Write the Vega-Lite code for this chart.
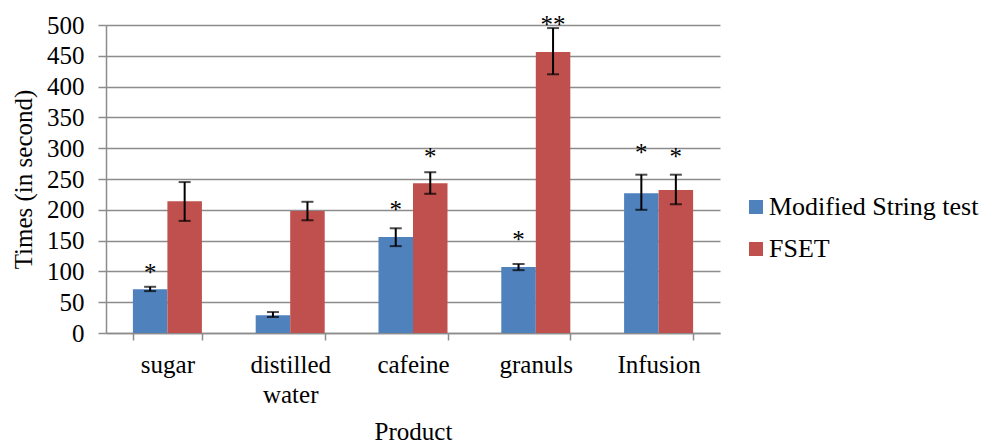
{
  "$schema": "https://vega.github.io/schema/vega-lite/v6.json",
  "width": 614,
  "height": 308,
  "autosize": {"type": "none"},
  "padding": {"left": 106, "top": 25, "right": 263, "bottom": 110},
  "background": "white",
  "config": {
    "font": "Liberation Serif",
    "view": {"stroke": null},
    "axis": {
      "labelFont": "Liberation Serif",
      "titleFont": "Liberation Serif",
      "labelFontSize": 25,
      "titleFontSize": 25,
      "titleFontWeight": "normal",
      "labelColor": "black",
      "titleColor": "black",
      "domainColor": "#8c8c8c",
      "domainWidth": 1.5,
      "tickColor": "#8c8c8c",
      "tickWidth": 1.5,
      "gridColor": "#8c8c8c",
      "gridWidth": 1.5
    },
    "axisY": {
      "tickCount": 10,
      "tickSize": 8,
      "labelPadding": 14,
      "titlePadding": 10
    },
    "legend": {"labelFont": "Liberation Serif", "labelLimit": 400}
  },
  "data": {
    "values": [
      {"product": "sugar", "series": "Modified String test", "value": 71, "lo": 68, "hi": 75, "star": "*", "sy": 105},
      {"product": "sugar", "series": "FSET", "value": 214, "lo": 182, "hi": 245, "star": "", "sy": 0},
      {"product": "distilled water", "series": "Modified String test", "value": 29, "lo": 26, "hi": 34, "star": "", "sy": 0},
      {"product": "distilled water", "series": "FSET", "value": 198, "lo": 183, "hi": 213, "star": "", "sy": 0},
      {"product": "cafeine", "series": "Modified String test", "value": 156, "lo": 141, "hi": 170, "star": "*", "sy": 208},
      {"product": "cafeine", "series": "FSET", "value": 243, "lo": 226, "hi": 261, "star": "*", "sy": 294},
      {"product": "granuls", "series": "Modified String test", "value": 107, "lo": 102, "hi": 112, "star": "*", "sy": 159},
      {"product": "granuls", "series": "FSET", "value": 456, "lo": 420, "hi": 495, "star": "**", "sy": 508},
      {"product": "Infusion", "series": "Modified String test", "value": 227, "lo": 200, "hi": 257, "star": "*", "sy": 300},
      {"product": "Infusion", "series": "FSET", "value": 232, "lo": 209, "hi": 257, "star": "*", "sy": 294}
    ]
  },
  "encoding": {
    "x": {
      "field": "product",
      "type": "nominal",
      "sort": ["sugar", "distilled water", "cafeine", "granuls", "Infusion"],
      "scale": {"paddingInner": 0.438, "paddingOuter": 0.219},
      "axis": {
        "title": "Product",
        "labelAngle": 0,
        "grid": false,
        "tickBand": "extent",
        "tickSize": 7,
        "labelPadding": 12,
        "labelLineHeight": 30,
        "labelBaseline": "top",
        "titlePadding": 12,
        "labelExpr": "datum.value == 'distilled water' ? ['distilled', 'water'] : datum.value"
      }
    },
    "xOffset": {
      "field": "series",
      "type": "nominal",
      "sort": ["Modified String test", "FSET"],
      "scale": {"paddingInner": 0, "paddingOuter": 0}
    }
  },
  "layer": [
    {
      "mark": {"type": "bar"},
      "encoding": {
        "y": {
          "field": "value",
          "type": "quantitative",
          "title": "Times (in second)",
          "scale": {"domain": [0, 500]}
        },
        "color": {
          "field": "series",
          "type": "nominal",
          "sort": ["Modified String test", "FSET"],
          "scale": {"domain": ["Modified String test", "FSET"], "range": ["#4f81bd", "#c0504d"]},
          "legend": {
            "orient": "none",
            "legendX": 637,
            "legendY": 169,
            "title": null,
            "symbolType": "square",
            "symbolSize": 196,
            "symbolStrokeWidth": 0,
            "labelFontSize": 26,
            "labelLimit": 400,
            "labelColor": "black",
            "labelOffset": 0,
            "rowPadding": 16
          }
        }
      }
    },
    {
      "mark": {"type": "rule", "color": "black", "strokeWidth": 2},
      "encoding": {
        "y": {"field": "lo", "type": "quantitative", "title": "Times (in second)"},
        "y2": {"field": "hi"}
      }
    },
    {
      "mark": {"type": "tick", "color": "black", "thickness": 2, "size": 12},
      "encoding": {"y": {"field": "lo", "type": "quantitative", "title": "Times (in second)"}}
    },
    {
      "mark": {"type": "tick", "color": "black", "thickness": 2, "size": 12},
      "encoding": {"y": {"field": "hi", "type": "quantitative", "title": "Times (in second)"}}
    },
    {
      "transform": [{"filter": "datum.star != ''"}],
      "mark": {"type": "text", "fontSize": 25, "font": "Liberation Serif", "color": "black", "baseline": "middle", "dy": 5},
      "encoding": {
        "y": {"field": "sy", "type": "quantitative", "title": "Times (in second)"},
        "text": {"field": "star"}
      }
    }
  ]
}
